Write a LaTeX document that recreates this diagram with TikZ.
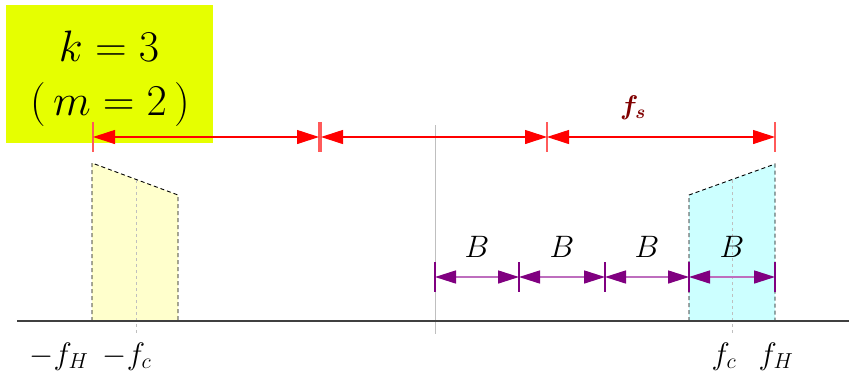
\RequirePackage{fix-cm}
\documentclass[tikz,border=0pt]{standalone}
\usepackage{bm}
\usetikzlibrary{arrows.meta}

\definecolor{boxyellow}{RGB}{230,255,0}
\definecolor{bandyellow}{RGB}{255,255,204}
\definecolor{bandcyan}{RGB}{204,255,255}
\definecolor{fsred}{RGB}{128,0,0}
\definecolor{spanred}{RGB}{255,0,0}
\definecolor{tickred}{RGB}{255,90,90}
\definecolor{bpurple}{RGB}{128,0,128}
\definecolor{bline}{RGB}{190,110,190}

\tikzset{
  redspan/.style={draw=spanred, line width=1.1pt,
    {Triangle[length=22pt,width=14pt]}-{Triangle[length=22pt,width=14pt]}},
  redtick/.style={draw=tickred, line width=1.2pt},
  bspan/.style={draw=bline, line width=1.6pt,
    {Triangle[length=21pt,width=13pt,color=bpurple]}-{Triangle[length=21pt,width=13pt,color=bpurple]}},
  btick/.style={draw=bpurple, line width=1.2pt},
  band/.style={draw=black, dash pattern=on 4pt off 3pt, line width=0.9pt},
  midline/.style={draw=black!25, dashed, line width=0.6pt},
  lbl/.style={anchor=base, inner sep=0pt, font=\fontsize{31}{35}\selectfont}
}

\begin{document}
\begin{tikzpicture}[x=1pt,y=-1pt]
  \useasboundingbox (0,0) rectangle (850,376);

  % mode box
  \fill[boxyellow] (6,5) rectangle (213,143);
  \node[lbl, font=\fontsize{44}{50}\selectfont] (kval) at (109,61) {$k=3$};
  \node[lbl, font=\fontsize{44}{50}\selectfont] (mval) at (110,115) {$(\,m=2\,)$};

  % spectral bands
  \filldraw[band, fill=bandyellow] (92,321) -- (92,163) -- (178,195) -- (178,321) -- cycle;
  \filldraw[band, fill=bandcyan] (689,321) -- (689,195) -- (775,164) -- (775,321) -- cycle;
  \draw[midline] (136,180) -- (136,334);
  \draw[midline] (732,180) -- (732,334);

  % axis
  \draw[black!25, line width=0.8pt] (435,125) -- (435,334);
  \draw[black!75, line width=1.3pt] (17,321) -- (849,321);

  % f_s spans
  \coordinate (r0) at (93,137);
  \coordinate (r1) at (319,137);
  \coordinate (r1b) at (321,137);
  \coordinate (r2) at (547,137);
  \coordinate (r3) at (775,137);
  \foreach \p in {r0,r1,r1b,r2,r3}
    \draw[redtick] (\p) ++(0,-15) -- ++(0,30);
  \draw[redspan] (r0) -- (r1);
  \draw[redspan] (r1b) -- (r2);
  \draw[redspan] (r2) -- (r3);
  \node[anchor=base, inner sep=0pt, text=fsred, font=\fontsize{27}{31}\selectfont] (fs) at (633,114)
    {$\bm{f}_{\bm{s}}$};

  % bandwidth spans
  \coordinate (b0) at (435,277);
  \coordinate (b1) at (519,277);
  \coordinate (b2) at (605,277);
  \coordinate (b3) at (689,277);
  \coordinate (b4) at (775,277);
  \foreach \p in {b0,b1,b2,b3,b4}
    \draw[btick] (\p) ++(0,-15) -- ++(0,30);
  \foreach \a/\b/\x in {b0/b1/477,b1/b2/562,b2/b3/647,b3/b4/732} {
    \draw[bspan] (\a) -- (\b);
    \node[lbl] (lab-\a) at (\x,257) {$B$};
  }

  % frequency labels
  \node[lbl] (mfH) at (59,364) {$-f_H$};
  \node[lbl] (mfc) at (127,364) {$-f_c$};
  \node[lbl] (fc) at (724,364) {$f_c$};
  \node[lbl] (fH) at (776,364) {$f_H$};
\end{tikzpicture}
\end{document}
